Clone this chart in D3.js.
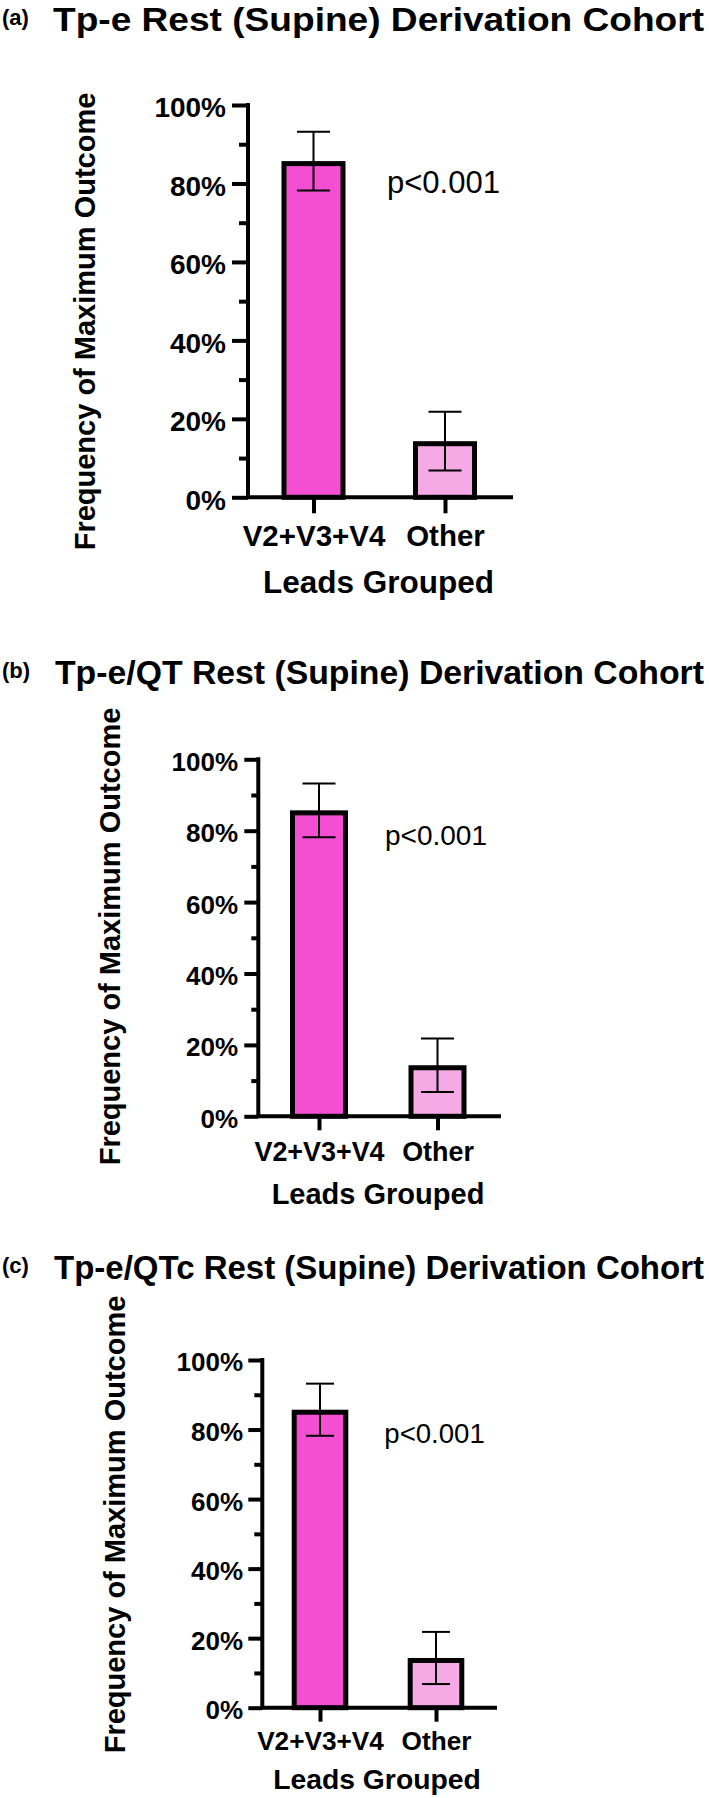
<!DOCTYPE html>
<html><head><meta charset="utf-8">
<title>Leads grouped - frequency of maximum outcome</title>
<script src="https://d3js.org/d3.v7.min.js"></script>
<style>
  body { margin: 0; background: #fff; }
  svg { display: block; }
  text { font-family: "Liberation Sans", Arial, Helvetica, sans-serif; fill: #000; }
  .axis .domain { display: none; }
  .axis line { stroke: #000; }
</style>
</head>
<body>
<svg id="fig" width="709" height="1798"></svg>
<script>

// ---- data ----
const panelTags = ["(a)", "(b)", "(c)"];
const titles = [
  "Tp-e Rest (Supine) Derivation Cohort",
  "Tp-e/QT Rest (Supine) Derivation Cohort",
  "Tp-e/QTc Rest (Supine) Derivation Cohort"
];
const categories = ["V2+V3+V4", "Other"];
// frequency (%) per panel, per category
const means = [
  [85.7, 14.3],
  [85.7, 14.3],
  [85.7, 14.3]
];
// error bar half-length (%)
const errors = [
  [7.5, 7.5],
  [7.5, 7.5],
  [7.5, 7.5]
];
const majorTicks = [0, 20, 40, 60, 80, 100];
const minorTicks = [10, 30, 50, 70, 90];
const pLabel = "p<0.001";
const xTitle = "Leads Grouped";
const yTitle = "Frequency of Maximum Outcome";
const barColors = ["#f44ed3", "#f5aae6"];

// ---- layout of each of the three stacked panels ----
const layouts = [
  { titleX: 53, titleY: 31, x0: 248, xEnd: 511, y0: 497.3, y100: 105, centers: [313.5, 445], barW: 64, cap: 33,
    major: 16, minor: 9, xTick: 16, tickFs: 28, tickEnd: 226, catFs: 29.5, catY: 546,
    xLabFs: 31.5, xLabX: 378.5, xLabY: 593, yLabX: 95, yLabMid: 321.5, pX: 387, pY: 193, pFs: 31 },
  { titleX: 55, titleY: 684, x0: 258.3, xEnd: 499, y0: 1116.3, y100: 759.3, centers: [319, 437.5], barW: 58, cap: 33,
    major: 14, minor: 7, xTick: 14, tickFs: 26, tickEnd: 238, catFs: 26.9, catY: 1161,
    xLabFs: 29, xLabX: 378, xLabY: 1204, yLabX: 120, yLabMid: 936.5, pX: 385, pY: 845, pFs: 28 },
  { titleX: 54, titleY: 1279, x0: 262.3, xEnd: 495, y0: 1707.7, y100: 1360, centers: [320, 436], barW: 56.6, cap: 28,
    major: 14, minor: 8, xTick: 14, tickFs: 26, tickEnd: 243, catFs: 26.2, catY: 1750,
    xLabFs: 28.3, xLabX: 377, xLabY: 1789, yLabX: 125, yLabMid: 1524.5, pX: 384.3, pY: 1443, pFs: 27.6 }
];

const svg = d3.select("#fig");
const axisW = 4;   // axis + tick thickness
const barSW = 5;   // bar outline

layouts.forEach((L, i) => {
  let g = svg.append("g");

  let y = d3.scaleLinear().domain([0, 100]).range([L.y0, L.y100]);
  let x = d3.scalePoint().domain(categories).range(L.centers);

  // heading
  g.append("text")
    .attr("x", 2).attr("y", L.titleY - 6)
    .style("font-size", "22px").style("font-weight", "bold")
    .text(panelTags[i]);
  g.append("text")
    .attr("x", L.titleX).attr("y", L.titleY)
    .style("font-size", "33px").style("font-weight", "bold")
    .attr("textLength", 704 - L.titleX).attr("lengthAdjust", "spacingAndGlyphs")
    .text(titles[i]);

  // bars (outline drawn inside the bar footprint)
  g.selectAll("rect.bar").data(categories).join("rect")
    .attr("class", "bar")
    .attr("x", d => x(d) - L.barW / 2 + barSW / 2)
    .attr("y", (d, j) => y(means[i][j]) + barSW / 2)
    .attr("width", L.barW - barSW)
    .attr("height", (d, j) => y(0) - y(means[i][j]) - barSW / 2)
    .attr("fill", (d, j) => barColors[j])
    .attr("stroke", "#000")
    .attr("stroke-width", barSW);

  // error bars
  let eb = g.selectAll("g.err").data(categories).join("g").attr("class", "err")
    .attr("stroke", "#000").attr("stroke-width", 2);
  eb.append("line")
    .attr("x1", d => x(d)).attr("x2", d => x(d))
    .attr("y1", (d, j) => y(means[i][j] + errors[i][j]))
    .attr("y2", (d, j) => y(means[i][j] - errors[i][j]));
  eb.append("line")
    .attr("x1", d => x(d) - L.cap / 2).attr("x2", d => x(d) + L.cap / 2)
    .attr("y1", (d, j) => y(means[i][j] + errors[i][j]))
    .attr("y2", (d, j) => y(means[i][j] + errors[i][j]));
  eb.append("line")
    .attr("x1", d => x(d) - L.cap / 2).attr("x2", d => x(d) + L.cap / 2)
    .attr("y1", (d, j) => y(means[i][j] - errors[i][j]))
    .attr("y2", (d, j) => y(means[i][j] - errors[i][j]));

  // y axis: major ticks with labels, minor ticks without
  let yAxis = d3.axisLeft(y).tickValues(majorTicks).tickSize(L.major)
    .tickPadding(L.x0 - L.major - L.tickEnd).tickFormat(d => d + "%");
  let ga = g.append("g").attr("class", "axis").attr("transform", `translate(${L.x0},0)`).call(yAxis);
  ga.selectAll("line").attr("stroke-width", axisW);
  ga.selectAll("text")
    .attr("dy", "0.42em")
    .style("font-size", L.tickFs + "px").style("font-weight", "bold");

  let yMinor = d3.axisLeft(y).tickValues(minorTicks).tickSize(L.minor).tickFormat("");
  g.append("g").attr("class", "axis").attr("transform", `translate(${L.x0},0)`).call(yMinor)
    .selectAll("line").attr("stroke-width", axisW);

  // x axis ticks + category labels
  let xAxis = d3.axisBottom(x).tickSize(L.xTick).tickPadding(0);
  let gx = g.append("g").attr("class", "axis").attr("transform", `translate(0,${L.y0})`).call(xAxis);
  gx.selectAll("line").attr("stroke-width", axisW);
  gx.selectAll("text")
    .attr("y", L.catY - L.y0).attr("dy", null)
    .style("font-size", L.catFs + "px").style("font-weight", "bold");

  // the L-shaped axis lines
  g.append("path")
    .attr("d", `M${L.x0},${y(100)}V${y(0)}H${L.xEnd}`)
    .attr("fill", "none").attr("stroke", "#000")
    .attr("stroke-width", axisW).attr("stroke-linecap", "square");

  // axis titles
  g.append("text")
    .attr("x", L.xLabX).attr("y", L.xLabY)
    .attr("text-anchor", "middle")
    .style("font-size", L.xLabFs + "px").style("font-weight", "bold")
    .text(xTitle);

  g.append("text")
    .attr("transform", `translate(${L.yLabX},${L.yLabMid}) rotate(-90)`)
    .attr("text-anchor", "middle")
    .style("font-size", "29px").style("font-weight", "bold")
    .text(yTitle);

  // significance note
  g.append("text")
    .attr("x", L.pX).attr("y", L.pY)
    .style("font-size", L.pFs + "px")
    .text(pLabel);
});

</script>
</body>
</html>
